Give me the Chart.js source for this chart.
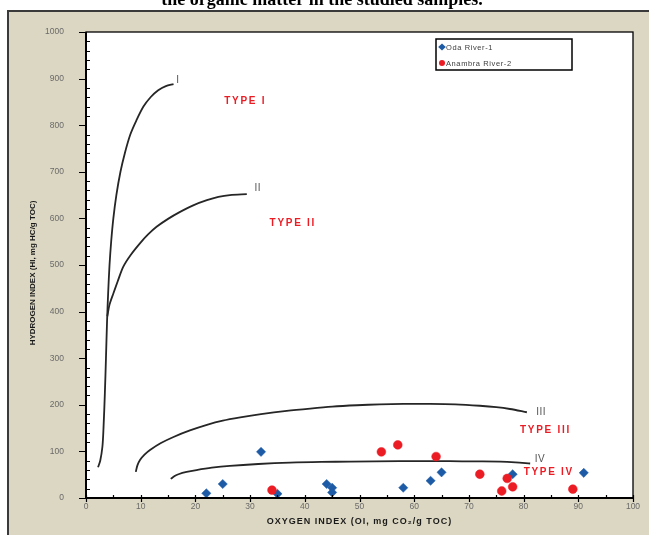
<!DOCTYPE html>
<html>
<head>
<meta charset="utf-8">
<script src="https://cdn.jsdelivr.net/npm/chart.js@4/dist/chart.umd.min.js"></script>
<style>
  html, body { margin: 0; padding: 0; background: #fff; }
  canvas { display: block; }
</style>
</head>
<body>
<canvas id="vk" width="649" height="535"></canvas>
<script>
// Sample values: Oxygen Index (OI) and Hydrogen Index (HI)
const odaOI = [22, 25, 32, 35, 44, 45, 45, 58, 63, 65, 78, 91];
const odaHI = [10, 30, 99, 9, 30, 22, 12, 22, 37, 55, 51, 54];
const anambraOI = [34, 54, 57, 64, 72, 77, 78, 76, 89];
const anambraHI = [17, 99, 114, 89, 51, 42, 24, 15, 19];

// Kerogen evolution paths (OI, HI)
const typeIOI = [2.2, 2.6, 3.0, 3.2, 3.45, 3.65, 3.85, 4.05, 4.3, 4.6, 5.0, 5.55, 6.3, 7.1, 8.1, 9.2, 10.5, 11.8, 13.2, 14.6, 16.0];
const typeIHI = [66, 80, 110, 150, 225, 300, 380, 440, 500, 550, 600, 650, 700, 740, 780, 810, 840, 860, 875, 884, 888];
const typeIIOI = [3.9, 4.3, 5.0, 5.8, 6.8, 8.2, 9.9, 11.3, 12.9, 15.0, 17.2, 19.6, 22.1, 24.2, 26.3, 29.4];
const typeIIHI = [390, 415, 439, 465, 496, 522, 547, 565, 582, 599, 614, 628, 639, 646, 650, 652];
const typeIIIOI = [9.1, 9.4, 9.9, 10.7, 11.7, 13.7, 16.0, 19.0, 22.1, 25.0, 28.2, 32.0, 36.7, 41.0, 45.0, 49.5, 53.7, 58.0, 62.9, 67.5, 72.0, 75.0, 77.5, 80.6];
const typeIIIHI = [56, 70, 82, 93, 103, 118, 131, 145, 157, 166, 173, 180, 187, 192, 196, 199, 201, 202, 202, 201, 198, 195, 191, 184];
const typeIVOI = [15.5, 16.2, 16.9, 18.4, 20.2, 23.0, 26.3, 31.5, 37.3, 43.0, 48.3, 57.3, 66.5, 71.0, 75.7, 78.5, 81.2];
const typeIVHI = [41, 47, 51, 56, 60, 65, 69, 73, 76, 77.5, 78, 79, 79, 78.5, 78, 76.5, 74];

// Axis ticks
const oiTicks = [0, 10, 20, 30, 40, 50, 60, 70, 80, 90, 100];
const hiTicks = [0, 100, 200, 300, 400, 500, 600, 700, 800, 900, 1000];

// Curve annotations: [label, OI, HI]
const curveNames = [['I', 16.8, 897], ['II', 31.4, 665], ['III', 83.2, 184], ['IV', 83.0, 84]];
const typeNames = [['TYPE I', 29.1, 852], ['TYPE II', 37.8, 590], ['TYPE III', 84.0, 146], ['TYPE IV', 84.6, 56]];

const pairs = (xs, ys) => xs.map((x, i) => ({ x, y: ys[i] }));

const BLUE = '#1d5ba6';
const RED = '#ec1c24';
const FONT = "'Liberation Sans', Arial, sans-serif";

function curve(label, xs, ys) {
  return {
    label, data: pairs(xs, ys), showLine: true, isCurve: true,
    borderColor: '#262626', borderWidth: 1.8, pointRadius: 0,
    tension: 0.3, fill: false, order: 2
  };
}

const framePlugin = {
  id: 'frame',
  beforeDraw(chart) {
    const { ctx, width, height, chartArea: a } = chart;
    ctx.save();
    ctx.fillStyle = '#ffffff';
    ctx.fillRect(0, 0, width, height);
    // caption line
    ctx.fillStyle = '#000';
    ctx.font = "bold 18px 'Liberation Serif', 'Times New Roman', serif";
    ctx.textAlign = 'center';
    ctx.textBaseline = 'alphabetic';
    ctx.fillText('the organic matter in the studied samples.', 322, 5);
    // panel
    ctx.fillStyle = '#dcd7c2';
    ctx.fillRect(8, 11, width - 8, height - 11);
    ctx.strokeStyle = '#3a3a3a';
    ctx.lineWidth = 2;
    ctx.beginPath();
    ctx.moveTo(8, height);
    ctx.lineTo(8, 11);
    ctx.lineTo(width, 11);
    ctx.stroke();
    // plot area
    ctx.fillStyle = '#ffffff';
    ctx.fillRect(a.left, a.top, a.right - a.left, a.bottom - a.top);
    ctx.restore();
  },
  afterDraw(chart) {
    const { ctx, chartArea: a, scales: { x, y } } = chart;
    ctx.save();
    // plot border
    ctx.strokeStyle = '#000';
    ctx.lineWidth = 1.3;
    ctx.strokeRect(a.left, a.top, a.right - a.left, a.bottom - a.top);
    ctx.lineWidth = 2;
    ctx.beginPath();
    ctx.moveTo(a.left, a.top);
    ctx.lineTo(a.left, a.bottom);
    ctx.lineTo(a.right, a.bottom);
    ctx.stroke();
    // tick marks
    ctx.lineWidth = 1.2;
    ctx.beginPath();
    for (let v = 0; v <= 100; v += 5) {
      const px = Math.round(x.getPixelForValue(v)) + 0.5;
      if (v % 10 === 0) { ctx.moveTo(px, a.bottom - 3); ctx.lineTo(px, a.bottom + 4); }
      else { ctx.moveTo(px, a.bottom); ctx.lineTo(px, a.bottom - 3); }
    }
    for (let v = 0; v <= 1000; v += 20) {
      const py = Math.round(y.getPixelForValue(v)) + 0.5;
      if (v % 100 === 0) { ctx.moveTo(a.left - 7, py); ctx.lineTo(a.left + 1, py); }
      else { ctx.moveTo(a.left, py); ctx.lineTo(a.left + 4, py); }
    }
    ctx.stroke();

    // axis titles
    ctx.fillStyle = '#1a1a1a';
    ctx.font = 'bold 9px ' + FONT;
    ctx.textBaseline = 'middle';
    ctx.textAlign = 'center';
    ctx.letterSpacing = '1px';
    ctx.fillText('OXYGEN INDEX (OI, mg CO\u2082/g TOC)', (a.left + a.right) / 2, 522);
    ctx.save();
    ctx.translate(33, 273);
    ctx.rotate(-Math.PI / 2);
    ctx.font = 'bold 8px ' + FONT;
    ctx.letterSpacing = '0px';
    ctx.fillText('HYDROGEN INDEX (HI, mg HC/g TOC)', 0, 0);
    ctx.restore();

    // curve names
    ctx.fillStyle = '#555';
    ctx.font = '10px ' + FONT;
    ctx.letterSpacing = '0.5px';
    ctx.textAlign = 'center';
    curveNames.forEach(([t, ox, hy]) => ctx.fillText(t, x.getPixelForValue(ox), y.getPixelForValue(hy)));
    // kerogen types
    ctx.fillStyle = RED;
    ctx.font = 'bold 10px ' + FONT;
    ctx.letterSpacing = '1.7px';
    typeNames.forEach(([t, ox, hy]) => ctx.fillText(t, x.getPixelForValue(ox), y.getPixelForValue(hy)));

    // legend
    const lx = 436, ly = 39, lw = 136, lh = 31;
    ctx.fillStyle = '#fff';
    ctx.fillRect(lx, ly, lw, lh);
    ctx.strokeStyle = '#000';
    ctx.lineWidth = 1.5;
    ctx.strokeRect(lx, ly, lw, lh);
    ctx.font = '7.5px ' + FONT;
    ctx.letterSpacing = '0.6px';
    ctx.textAlign = 'left';
    const entries = chart.data.datasets.filter(d => !d.isCurve);
    entries.forEach((d, i) => {
      const cy = ly + 8 + i * 16;
      ctx.fillStyle = d.backgroundColor;
      ctx.beginPath();
      if (d.pointStyle === 'circle') ctx.arc(lx + 6, cy, 3, 0, Math.PI * 2);
      else { ctx.moveTo(lx + 2.2, cy); ctx.lineTo(lx + 6, cy - 3.5); ctx.lineTo(lx + 9.8, cy); ctx.lineTo(lx + 6, cy + 3.5); ctx.closePath(); }
      ctx.fill();
      ctx.fillStyle = '#3c3c3c';
      ctx.fillText(d.label, lx + 10, cy + 0.5);
    });
    ctx.restore();
  }
};

new Chart(document.getElementById('vk'), {
  type: 'scatter',
  data: {
    datasets: [
      curve('Type I path', typeIOI, typeIHI),
      curve('Type II path', typeIIOI, typeIIHI),
      curve('Type III path', typeIIIOI, typeIIIHI),
      curve('Type IV path', typeIVOI, typeIVHI),
      {
        label: 'Oda River-1', data: pairs(odaOI, odaHI), pointStyle: 'rectRot',
        backgroundColor: BLUE, borderColor: BLUE, borderWidth: 0.5, pointRadius: 4.6, order: 1
      },
      {
        label: 'Anambra River-2', data: pairs(anambraOI, anambraHI), pointStyle: 'circle',
        backgroundColor: RED, borderColor: RED, borderWidth: 0.5, pointRadius: 4.4, order: 0
      }
    ]
  },
  options: {
    responsive: false,
    animation: false,
    devicePixelRatio: 1,
    layout: { padding: { left: 0, top: 32, right: 16, bottom: 0 } },
    plugins: { legend: { display: false }, tooltip: { enabled: false } },
    scales: {
      x: {
        type: 'linear', min: oiTicks[0], max: oiTicks[oiTicks.length - 1],
        afterBuildTicks: s => { s.ticks = oiTicks.map(v => ({ value: v })); },
        afterFit: s => { s.height = 37; },
        grid: { display: false, drawTicks: false },
        border: { display: false },
        ticks: { color: '#6a6a6a', font: { family: FONT, size: 8.5 }, padding: 4, maxRotation: 0,
                 callback: v => String(v) }
      },
      y: {
        type: 'linear', min: hiTicks[0], max: hiTicks[hiTicks.length - 1],
        afterBuildTicks: s => { s.ticks = hiTicks.map(v => ({ value: v })); },
        afterFit: s => { s.width = 86; },
        grid: { display: false, drawTicks: false },
        border: { display: false },
        ticks: { color: '#6a6a6a', font: { family: FONT, size: 8.5 }, padding: 22,
                 callback: v => String(v) }
      }
    }
  },
  plugins: [framePlugin]
});
</script>
</body>
</html>
